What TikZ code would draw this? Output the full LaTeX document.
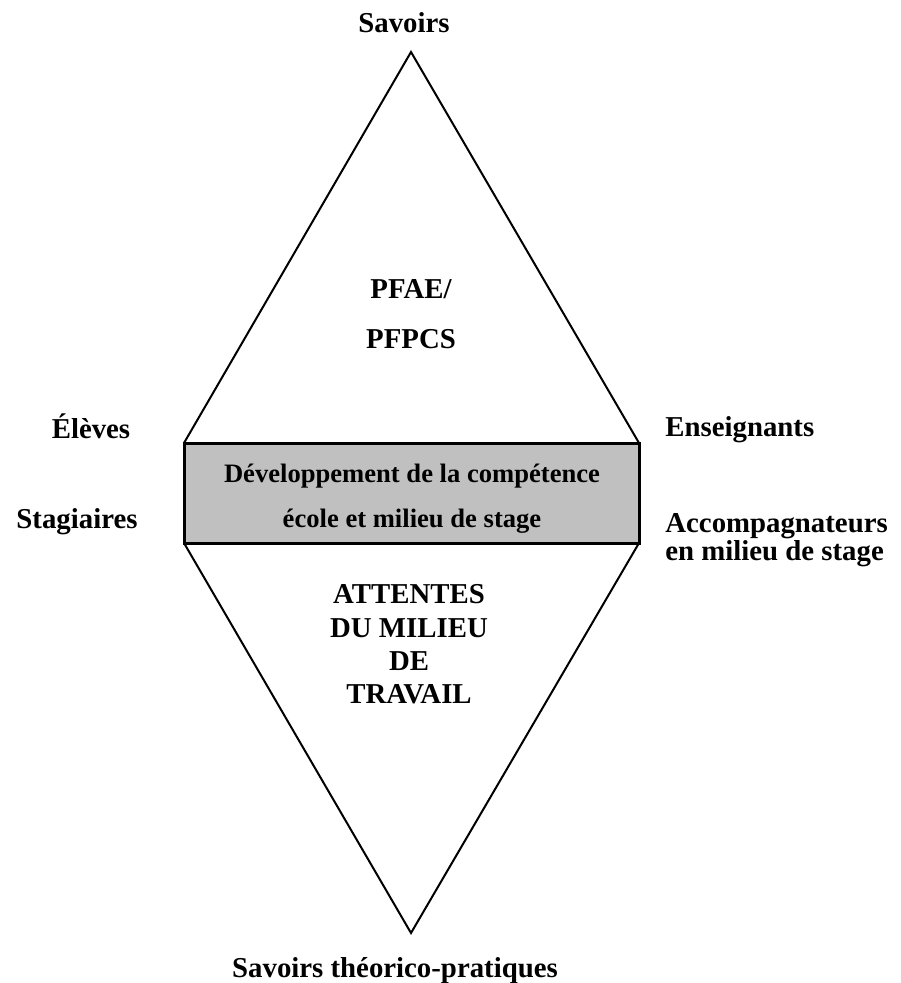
\documentclass[tikz,border=0pt]{standalone}
\usepackage{fontspec}
\setmainfont{Liberation Serif}
\definecolor{bandgrey}{HTML}{C0C0C0}
\begin{document}
\begin{tikzpicture}[x=0.5pt,y=-0.5pt,
  lbl/.style={font=\bfseries\fontsize{14.4}{16}\selectfont,inner sep=0pt,anchor=base},
  lblw/.style={lbl,anchor=base west},
  bandtext/.style={lbl,font=\bfseries\fontsize{13.3}{15}\selectfont},
  edge/.style={draw=black,line width=1pt,line join=miter},
  band/.style={draw=black,fill=bandgrey,line width=1.5pt}]
\useasboundingbox (0,0) rectangle (900,983);
% corner points of the two triangles and the band
\coordinate (top) at (411,52);
\coordinate (bot) at (411,933);
\coordinate (ul) at (184,443);
\coordinate (ur) at (639,443);
\coordinate (ll) at (184,543);
\coordinate (lr) at (639,543);
% upper and lower triangles
\draw[edge] (ul) -- (top) -- (ur);
\draw[edge] (ll) -- (bot) -- (lr);
% central band
\path[band] (ul) rectangle (lr);
% labels
\node[lbl] (savoirs) at (404,33) {Savoirs};
\node[lbl] (pfae) at (411,299) {PFAE/};
\node[lbl] (pfpcs) at (411,349) {PFPCS};
\node[lbl] (eleves) at (91,438) {Élèves};
\node[lbl] (stag) at (77,528) {Stagiaires};
\node[lblw] (ens) at (665,437) {Enseignants};
\node[lblw] (acc1) at (665,532) {Accompagnateurs};
\node[lblw] (acc2) at (665,560) {en milieu de stage};
\node[bandtext] (dev1) at (412,482) {Développement de la compétence};
\node[bandtext] (dev2) at (412,527) {école et milieu de stage};
\node[lbl] (att1) at (409,603) {ATTENTES};
\node[lbl] (att2) at (409,637) {DU MILIEU};
\node[lbl] (att3) at (409,670) {DE};
\node[lbl] (att4) at (409,703) {TRAVAIL};
\node[lbl] (stp) at (395,977) {Savoirs théorico-pratiques};
\end{tikzpicture}
\end{document}
